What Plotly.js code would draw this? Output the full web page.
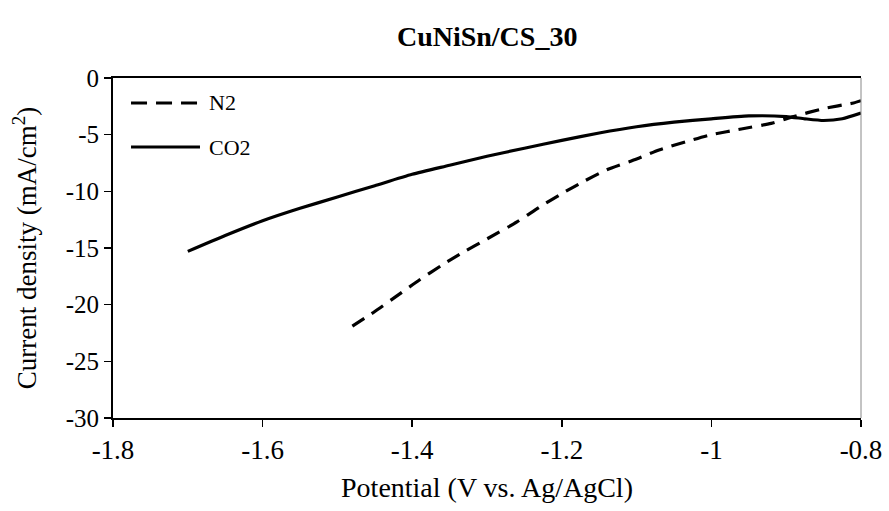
<!DOCTYPE html>
<html>
<head>
<meta charset="utf-8">
<script src="https://cdn.plot.ly/plotly-3.0.1.min.js"></script>
<style>html,body{margin:0;padding:0;background:#fff;}#chart{width:889px;height:511px;}</style>
</head>
<body>
<div id="chart"></div>
<script>
const co2X = [-1.70, -1.65, -1.60, -1.55, -1.50, -1.45, -1.40, -1.35, -1.30, -1.25, -1.20, -1.15, -1.10, -1.05, -1.00, -0.95, -0.90, -0.875, -0.85, -0.825, -0.80];
const co2Y = [-15.3, -13.9, -12.6, -11.5, -10.5, -9.5, -8.5, -7.7, -6.9, -6.2, -5.5, -4.85, -4.3, -3.9, -3.6, -3.35, -3.4, -3.6, -3.75, -3.6, -3.1];
const n2X = [-1.48, -1.45, -1.42, -1.39, -1.36, -1.33, -1.30, -1.26, -1.23, -1.20, -1.17, -1.14, -1.10, -1.07, -1.03, -1.00, -0.96, -0.92, -0.89, -0.85, -0.81, -0.80];
const n2Y = [-21.9, -20.6, -19.2, -17.8, -16.5, -15.3, -14.2, -12.7, -11.4, -10.2, -9.1, -8.1, -7.15, -6.35, -5.55, -5.0, -4.5, -4.0, -3.4, -2.7, -2.2, -2.0];
const xTicks = [-1.8, -1.6, -1.4, -1.2, -1, -0.8];
const xTickText = ['-1.8', '-1.6', '-1.4', '-1.2', '-1', '-0.8'];
const yTicks = [-30, -25, -20, -15, -10, -5, 0];
const yTickText = ['-30', '-25', '-20', '-15', '-10', '-5', '0'];
const seriesNames = ['N2', 'CO2'];

const font = 'Liberation Serif, Times New Roman, serif';
const traces = [
  {x: n2X, y: n2Y, name: seriesNames[0], mode: 'lines', line: {color: '#000', width: 3.2, dash: '14px,9px', shape: 'spline', smoothing: 0.6}, showlegend: false},
  {x: co2X, y: co2Y, name: seriesNames[1], mode: 'lines', line: {color: '#000', width: 3.2, shape: 'spline', smoothing: 0.6}, showlegend: false}
];
const legY = [0.9265, 0.797];
const layout = {
  width: 889, height: 511,
  margin: {l: 113, r: 28, t: 78, b: 93},
  paper_bgcolor: '#fff', plot_bgcolor: '#fff',
  title: {text: '<b>CuNiSn/CS_30</b>', font: {family: font, size: 28, color: '#000'}, x: 0.548, xanchor: 'center', y: 0.93, yanchor: 'middle'},
  xaxis: {range: [-1.8, -0.8], tickvals: xTicks, ticktext: xTickText, showgrid: false, zeroline: false,
    showline: true, linecolor: '#000', linewidth: 2, mirror: true, ticks: 'outside', ticklen: 7, tickwidth: 1.5, tickcolor: '#000',
    tickfont: {family: font, size: 27, color: '#000'},
    title: {text: 'Potential (V vs. Ag/AgCl)', font: {family: font, size: 28, color: '#000'}, standoff: 13}},
  yaxis: {range: [-30, 0], tickvals: yTicks, ticktext: yTickText, showgrid: false, zeroline: false,
    showline: true, linecolor: '#000', linewidth: 2, ticks: 'outside', ticklen: 7, tickwidth: 1.5, tickcolor: '#000',
    tickfont: {family: font, size: 25, color: '#000'},
    title: {text: 'Current density (mA/cm<sup>2</sup>)', font: {family: font, size: 27, color: '#000'}, standoff: 21}},
  showlegend: false,
  shapes: [
    {type: 'line', xref: 'paper', yref: 'paper', x0: 1, x1: 1, y0: 0, y1: 1, line: {color: '#888', width: 1}},
    {type: 'line', xref: 'paper', yref: 'paper', x0: 0.0241, x1: 0.1163, y0: legY[0], y1: legY[0], line: {color: '#000', width: 3.2, dash: '16px,9px'}},
    {type: 'line', xref: 'paper', yref: 'paper', x0: 0.0241, x1: 0.1163, y0: legY[1], y1: legY[1], line: {color: '#000', width: 3.2}}
  ],
  annotations: [
    {xref: 'paper', yref: 'paper', x: 0.1257, y: legY[0], xanchor: 'left', yanchor: 'middle', showarrow: false, text: seriesNames[0], font: {family: font, size: 22, color: '#000'}},
    {xref: 'paper', yref: 'paper', x: 0.1257, y: legY[1], xanchor: 'left', yanchor: 'middle', showarrow: false, text: seriesNames[1], font: {family: font, size: 22, color: '#000'}}
  ]
};
Plotly.newPlot('chart', traces, layout, {displayModeBar: false, staticPlot: true});
</script>
</body>
</html>
